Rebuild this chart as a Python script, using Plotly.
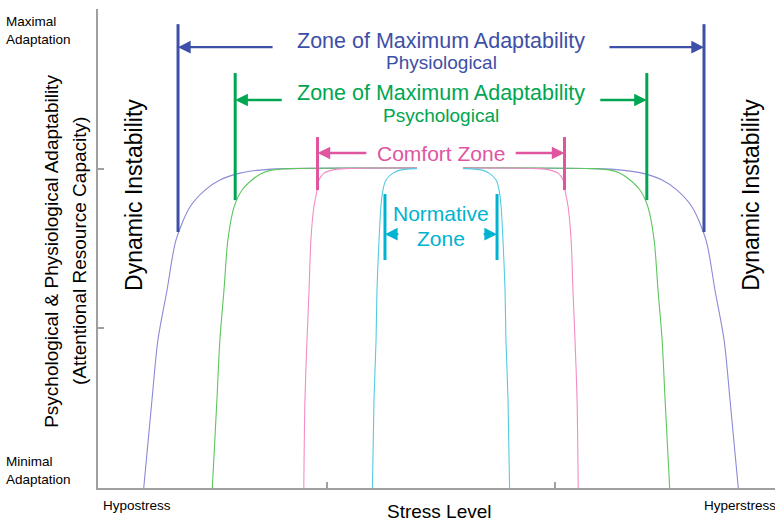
import plotly.graph_objects as go

# ---- data ----
# shared y levels (adaptability) for the curve points, bottom -> plateau
y_levels = [0.0, 0.551, 0.927, 1.240, 1.553, 1.760, 1.866, 1.929, 1.972, 1.991, 2.0]

blue_left = [0.200, 0.236, 0.262, 0.302, 0.341, 0.402, 0.468, 0.533, 0.621, 0.709, 0.818]
blue_right = [2.800, 2.764, 2.738, 2.698, 2.659, 2.598, 2.532, 2.467, 2.379, 2.291, 2.182]

green_left = [0.500, 0.520, 0.533, 0.551, 0.568, 0.595, 0.630, 0.673, 0.717, 0.761, 0.840]
green_right = [2.500, 2.480, 2.467, 2.449, 2.432, 2.405, 2.370, 2.327, 2.283, 2.239, 2.160]

pink_left = [0.900, 0.905, 0.914, 0.923, 0.931, 0.944, 0.958, 0.966, 0.988, 1.023, 1.080]
pink_right = [2.100, 2.095, 2.086, 2.077, 2.069, 2.056, 2.042, 2.034, 2.012, 1.977, 1.920]

cyan_left = [1.200, 1.207, 1.216, 1.220, 1.229, 1.237, 1.246, 1.259, 1.290, 1.321, 1.386]
cyan_right = [1.800, 1.793, 1.784, 1.780, 1.771, 1.763, 1.754, 1.741, 1.710, 1.679, 1.614]

curve_names = ["Physiological", "Psychological", "Comfort", "Normative"]
curve_colors = ["#8a8ad8", "#5ec65e", "#f38cc4", "#55cbe2"]
mark_colors = ["#3d4fa6", "#00a651", "#e0559f", "#00b3d0"]

# zone markers: (bar x left, bar x right, bar bottom, bar top, arrow y, tail left, tail right)
zone_bars = [
    (0.35, 2.65, 1.603, 2.905, 2.761, 0.77, 2.23),
    (0.60, 2.40, 1.803, 2.599, 2.430, 0.81, 2.19),
    (0.96, 2.04, 1.866, 2.198, 2.098, 1.18, 1.82),
    (1.255, 1.745, 1.428, 1.841, 1.590, 1.32, 1.68),
]

FONT = "Arial, 'Liberation Sans', sans-serif"

fig = go.Figure()

lefts = [blue_left, green_left, pink_left, cyan_left]
rights = [blue_right, green_right, pink_right, cyan_right]
for name, col, xl, xr in zip(curve_names, curve_colors, lefts, rights):
    xs = list(xl) + list(reversed(xr))
    ys = list(y_levels) + list(reversed(y_levels))
    fig.add_trace(go.Scatter(x=xs, y=ys, mode="lines", name=name,
                             line=dict(color=col, width=1.1, shape="spline", smoothing=0.8),
                             hoverinfo="skip", showlegend=False))

shapes = []
annotations = []
for col, (xl, xr, yb, yt, ya, tl, tr) in zip(mark_colors, zone_bars):
    for xb in (xl, xr):
        shapes.append(dict(type="line", x0=xb, x1=xb, y0=yb, y1=yt, xref="x", yref="y",
                           line=dict(color=col, width=3)))
    for xb, tail in ((xl, tl), (xr, tr)):
        annotations.append(dict(x=xb, y=ya, ax=tail, ay=ya, xref="x", yref="y",
                                axref="x", ayref="y", text="", showarrow=True,
                                arrowhead=2, arrowsize=1.1, arrowwidth=2.3,
                                arrowcolor=col, standoff=0, startstandoff=0))

# white gap in the plateau under the labels
shapes.append(dict(type="rect", x0=1.395, x1=1.596, y0=1.975, y1=2.025, xref="x", yref="y",
                   fillcolor="white", line=dict(width=0), layer="above"))

def txt(text, x, y, size, color, xref="x", yref="y", angle=0, xanchor="center", align="center"):
    annotations.append(dict(text=text, x=x, y=y, xref=xref, yref=yref, showarrow=False,
                            textangle=angle, xanchor=xanchor, yanchor="middle", align=align,
                            font=dict(family=FONT, size=size, color=color)))

txt("Zone of Maximum Adaptability", 1.5, 2.799, 21.5, mark_colors[0])
txt("Physiological", 1.5, 2.667, 19, mark_colors[0])
txt("Zone of Maximum Adaptability", 1.5, 2.473, 21.5, mark_colors[1])
txt("Psychological", 1.5, 2.336, 19, mark_colors[1])
txt("Comfort Zone", 1.5, 2.098, 21, mark_colors[2])
txt("Normative", 1.5, 1.722, 21, mark_colors[3])
txt("Zone", 1.5, 1.565, 21, mark_colors[3])
txt("Dynamic Instability", 0.157, 1.835, 23, "black", angle=-90)
txt("Dynamic Instability", 2.855, 1.835, 23, "black", angle=-90)

txt("Psychological & Physiological Adaptability", -0.068, 0.495, 19, "black",
    xref="paper", yref="paper", angle=-90)
txt("(Attentional Resource Capacity)", -0.0266, 0.495, 19, "black",
    xref="paper", yref="paper", angle=-90)
txt("Maximal<br>Adaptation", -0.139, 0.956, 13.5, "black", xref="paper", yref="paper",
    xanchor="left", align="left")
txt("Minimal<br>Adaptation", -0.139, 0.0355, 13.5, "black", xref="paper", yref="paper",
    xanchor="left", align="left")
txt("Hypostress", 0.0045, -0.0355, 13.5, "black", xref="paper", yref="paper", xanchor="left")
txt("Hyperstress", 0.892, -0.0355, 13.5, "black", xref="paper", yref="paper", xanchor="left")
txt("Stress Level", 0.505, -0.050, 19, "black", xref="paper", yref="paper")

axis_common = dict(showgrid=False, zeroline=False, showline=True, linecolor="#a0a0a0",
                   linewidth=1.5, ticks="inside", ticklen=6, tickwidth=1.5, tickcolor="#a0a0a0",
                   showticklabels=False)

fig.update_layout(
    width=775, height=522,
    margin=dict(l=98, r=0, t=9, b=34),
    paper_bgcolor="white", plot_bgcolor="white",
    xaxis=dict(range=[0, 2.9606], tickvals=[1, 2], **axis_common),
    yaxis=dict(range=[0, 3], tickvals=[0, 1, 2, 3], **axis_common),
    shapes=shapes, annotations=annotations,
    font=dict(family=FONT),
)

fig.write_html("out.html", config={"displayModeBar": False},
               post_script="document.body.style.margin='0';document.body.style.overflow='hidden';")
